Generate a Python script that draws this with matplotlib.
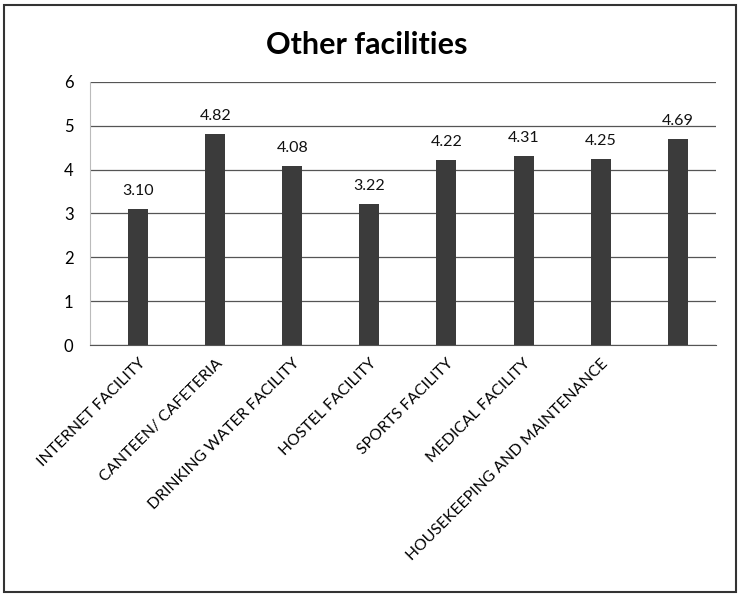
import matplotlib
matplotlib.use("Agg")
import matplotlib.pyplot as plt
import matplotlib.transforms as mtransforms
from matplotlib.patches import Rectangle

categories = ["INTERNET FACILITY", "CANTEEN/ CAFETERIA", "DRINKING WATER FACILITY",
              "HOSTEL FACILITY", "SPORTS FACILITY", "MEDICAL FACILITY",
              "HOUSEKEEPING AND MAINTENANCE", ""]
values = [3.10, 4.82, 4.08, 3.22, 4.22, 4.31, 4.25, 4.69]
yticks = [0, 1, 2, 3, 4, 5, 6]

plt.rcParams['font.family'] = ['Lato', 'DejaVu Sans']

fig = plt.figure(figsize=(7.4, 5.98), dpi=100)
ax = fig.add_axes([0.122, 0.423, 0.846, 0.44])

x = list(range(len(values)))
bars = ax.bar(x, values, width=0.26, color="#3b3b3b", zorder=3)
for xi, v in zip(x, values):
    ax.text(xi, v + 0.25, f"{v:.2f}", ha="center", va="bottom", fontsize=11.5, color="#111111")

ax.set_ylim(0, 6)
ax.set_xlim(-0.62, 7.5)
ax.set_yticks(yticks)
ax.set_yticklabels([str(t) for t in yticks], fontsize=12)
ax.set_xticks(x)
ax.set_xticklabels(categories, rotation=45, ha="right", rotation_mode="anchor", fontsize=11.3)
offset = mtransforms.ScaledTranslation(-10 / 100, 0, fig.dpi_scale_trans)
for lab in ax.get_xticklabels():
    lab.set_transform(lab.get_transform() + offset)
ax.tick_params(axis="both", length=0, pad=8)
ax.tick_params(axis="y", pad=12)
ax.grid(axis="y", color="#555555", linewidth=0.9, zorder=0)
for s in ["top", "right"]:
    ax.spines[s].set_visible(False)
ax.spines["left"].set_color("#bbbbbb")
ax.spines["left"].set_linewidth(0.8)
ax.spines["bottom"].set_color("#555555")

fig.text(0.495, 0.925, "Other facilities", ha="center", va="center", fontsize=22, fontweight="bold")

fig.patches.append(Rectangle((0.006, 0.01), 0.988, 0.982, transform=fig.transFigure,
                             fill=False, edgecolor="#333333", linewidth=1.5))

fig.savefig("out.png", dpi=100, facecolor="white")
